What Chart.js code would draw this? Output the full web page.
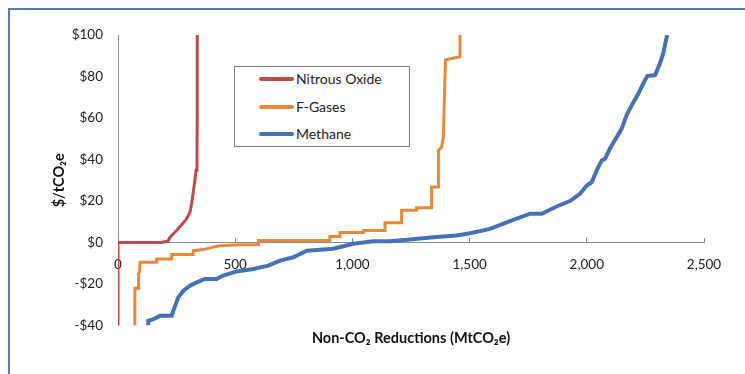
<!DOCTYPE html>
<html>
<head>
<meta charset="utf-8">
<script src="https://cdn.jsdelivr.net/npm/chart.js@4.4.1/dist/chart.umd.min.js"></script>
<style>
  html, body { margin: 0; padding: 0; background: #fff; overflow: hidden; }
  #wrap { position: relative; width: 745px; height: 374px; overflow: hidden; }
  #frame { position: absolute; left: 8px; top: 8px; width: 800px; height: 400px;
           border-left: 2px solid #4f7fbf; border-top: 2px solid #4f7fbf; }
  canvas { position: absolute; left: 0; top: 0; }
  #legend { position: absolute; left: 234px; top: 66px; width: 174px; height: 79px;
            border: 1px solid #7f7f7f; background: #fff; font: 14px Lato, sans-serif; color: #222; }
  .row { position: absolute; left: 0; height: 18px; line-height: 18px; }
  .swatch { position: absolute; left: 24px; top: 7px; width: 35px; height: 4px; border-radius: 2px; }
  .label { position: absolute; left: 61px; white-space: nowrap; }
</style>
</head>
<body>
<div id="wrap">
  <div id="frame"></div>
  <canvas id="chart-mac" width="745" height="374"></canvas>
  <div id="legend"></div>
</div>
<script>
// marginal abatement cost curves
const n2oX = [0, 0, 186, 205, 215, 222, 229, 250, 272, 290, 300, 307, 314, 321, 328, 333, 337, 338, 338];
const n2oY = [-40, 0, 0, 0.5, 1, 2.5, 3.4, 5.8, 8.7, 11, 13, 14.6, 18.7, 24.3, 30, 34.8, 44, 60, 100];

const fgasX = [72, 72, 88, 88, 92, 94, 165, 165, 229, 229, 321, 321, 370, 400, 435, 520, 599, 599, 904, 904, 947, 947, 1047, 1047, 1139, 1139, 1210, 1210, 1274, 1274, 1338, 1338, 1367, 1367, 1381, 1388, 1397, 1424, 1459, 1459];
const fgasY = [-40, -22, -22, -15, -14, -9.5, -9.5, -7.9, -7.9, -5.8, -5.8, -3.9, -3.2, -2.3, -1.5, -1.1, -1.1, 1, 1, 2.9, 2.9, 4.8, 4.8, 5.8, 5.8, 9.6, 9.6, 15.6, 15.6, 16.8, 16.8, 26.8, 26.8, 44.4, 46, 51, 88, 88.7, 89.5, 100];

const ch4X = [129, 129, 151, 179, 229, 236, 257, 279, 307, 336, 371, 421, 449, 506, 577, 641, 691, 748, 805, 918, 1004, 1089, 1160, 1246, 1345, 1445, 1502, 1587, 1672, 1758, 1808, 1871, 1928, 1971, 2000, 2021, 2049, 2064, 2078, 2099, 2128, 2149, 2170, 2192, 2220, 2241, 2258, 2291, 2312, 2326, 2341, 2345];
const ch4Y = [-40, -37.7, -36.9, -35.3, -35.3, -32.9, -26.4, -23.2, -20.8, -19.2, -17.5, -17.5, -15.9, -13.9, -12.7, -11.1, -8.7, -7.1, -3.9, -3, -0.6, 0.6, 0.6, 1.5, 2.6, 3.4, 4.5, 6.6, 10.3, 13.9, 13.9, 17.4, 20, 23.5, 27.5, 29.1, 36.4, 39.6, 40.4, 45.3, 50.9, 54.9, 61.4, 66.2, 71.8, 76.7, 80.2, 80.7, 86.3, 91.1, 99.2, 100];

const seriesNames = ['Nitrous Oxide', 'F-Gases', 'Methane'];
const seriesColors = ['#be4b48', '#e9873a', '#4472b4'];
const seriesWidths = [3, 3, 4];

const xTickLabels = ['0', '500', '1,000', '1,500', '2,000', '2,500'];
const yTickLabels = ['-$40', '-$20', '$0', '$20', '$40', '$60', '$80', '$100'];

const toPoints = (xs, ys) => xs.map((x, i) => ({ x: x, y: ys[i] }));
const seriesPoints = [toPoints(n2oX, n2oY), toPoints(fgasX, fgasY), toPoints(ch4X, ch4Y)];

// legend box (html, sits inside the plot like the original)
const legendEl = document.getElementById('legend');
const rowTops = [3, 31, 58];
seriesNames.forEach((name, i) => {
  const row = document.createElement('div');
  row.className = 'row';
  row.style.top = rowTops[i] + 'px';
  row.innerHTML = '<span class="swatch" style="background:' + seriesColors[i] + '"></span>' +
                  '<span class="label">' + name + '</span>';
  legendEl.appendChild(row);
});

const ctx = document.getElementById('chart-mac');
const tickFont = { family: 'Lato, sans-serif', size: 13.5 };
const titleFont = { family: 'Lato, sans-serif', size: 14.5, weight: 'bold' };

new Chart(ctx, {
  type: 'line',
  data: {
    datasets: seriesPoints.map((pts, i) => ({
      label: seriesNames[i],
      data: pts,
      borderColor: seriesColors[i],
      backgroundColor: seriesColors[i],
      borderWidth: seriesWidths[i],
      pointRadius: 0,
      tension: 0,
      fill: false,
      order: 2 - i
    }))
  },
  options: {
    responsive: false,
    animation: false,
    layout: { padding: { left: 10, right: 41, top: 35, bottom: 27 } },
    plugins: {
      legend: { display: false },
      tooltip: { enabled: false },
      title: {
        display: true,
        position: 'bottom',
        fullSize: false,
        text: 'Non-CO\u2082 Reductions (MtCO\u2082e)',
        color: '#111',
        font: titleFont,
        padding: { top: 4, bottom: 0 }
      }
    },
    scales: {
      x: {
        type: 'linear',
        position: { y: 0 },
        min: 0,
        max: 2500,
        ticks: {
          stepSize: 500,
          color: '#222',
          font: tickFont,
          padding: 19,
          maxRotation: 0,
          callback: (v, i) => xTickLabels[i]
        },
        grid: { display: true, drawOnChartArea: false, drawTicks: true, tickLength: -5, color: '#8c8c8c' },
        border: { display: true, color: '#8c8c8c', width: 1 }
      },
      y: {
        min: -40,
        max: 100,
        afterFit: (scale) => { scale.width = 108; },
        ticks: {
          stepSize: 20,
          color: '#222',
          font: tickFont,
          padding: 15,
          callback: (v, i) => yTickLabels[i]
        },
        grid: { display: false, drawTicks: false },
        border: { display: true, color: '#8c8c8c', width: 1 },
        title: {
          display: true,
          text: '$/tCO\u2082e',
          color: '#111',
          font: titleFont,
          padding: { top: 41, bottom: 0 }
        }
      }
    }
  }
});
</script>
</body>
</html>
